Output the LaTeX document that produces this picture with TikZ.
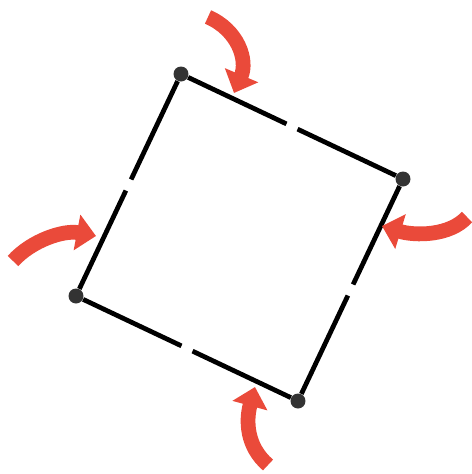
\documentclass[tikz,border=0pt]{standalone}
\usepackage{tikz}
\usepackage{xcolor}
\usetikzlibrary{arrows.meta,calc}
\definecolor{pushred}{RGB}{234,74,58}

\begin{document}
\begin{tikzpicture}[
  x=0.02cm, y=-0.02cm,
  corner/.style={circle, fill=black!80, inner sep=0pt, minimum size=0.3cm},
  side/.style={line width=2.7pt, black},
  push/.style={line width=8.4pt, pushred,
               -{Triangle[width=20pt, length=11pt]}},
]
\useasboundingbox (0,0) rectangle (472,474);

% Corners
\node[corner] (tl) at (181,74) {};
\node[corner] (tr) at (403,179) {};
\node[corner] (br) at (298,401) {};
\node[corner] (bl) at (76,296) {};

% Sides, each broken in the middle
\draw[side] (tl) -- ($(tl)!0.475!(tr)$);
\draw[side] ($(tl)!0.525!(tr)$) -- (tr);
\draw[side] (tr) -- ($(tr)!0.475!(br)$);
\draw[side] ($(tr)!0.525!(br)$) -- (br);
\draw[side] (br) -- ($(br)!0.475!(bl)$);
\draw[side] ($(br)!0.525!(bl)$) -- (bl);
\draw[side] (bl) -- ($(bl)!0.475!(tl)$);
\draw[side] ($(bl)!0.525!(tl)$) -- (tl);

% Arrow ends
\coordinate (topT) at (208,17);
\coordinate (topH) at (234,93);
\coordinate (rgtT) at (467,217);
\coordinate (rgtH) at (382,226);
\coordinate (botT) at (268,465);
\coordinate (botH) at (255,387);
\coordinate (lftT) at (13,261);
\coordinate (lftH) at (96,236);

% Red arrows
\draw[push] (topT) .. controls (238,30) and (248,60) .. (topH);
\draw[push] (rgtT) .. controls (450,236) and (415,236) .. (rgtH);
\draw[push] (botT) .. controls (246,446) and (246,420) .. (botH);
\draw[push] (lftT) .. controls (32,240) and (64,230) .. (lftH);

\end{tikzpicture}
\end{document}
